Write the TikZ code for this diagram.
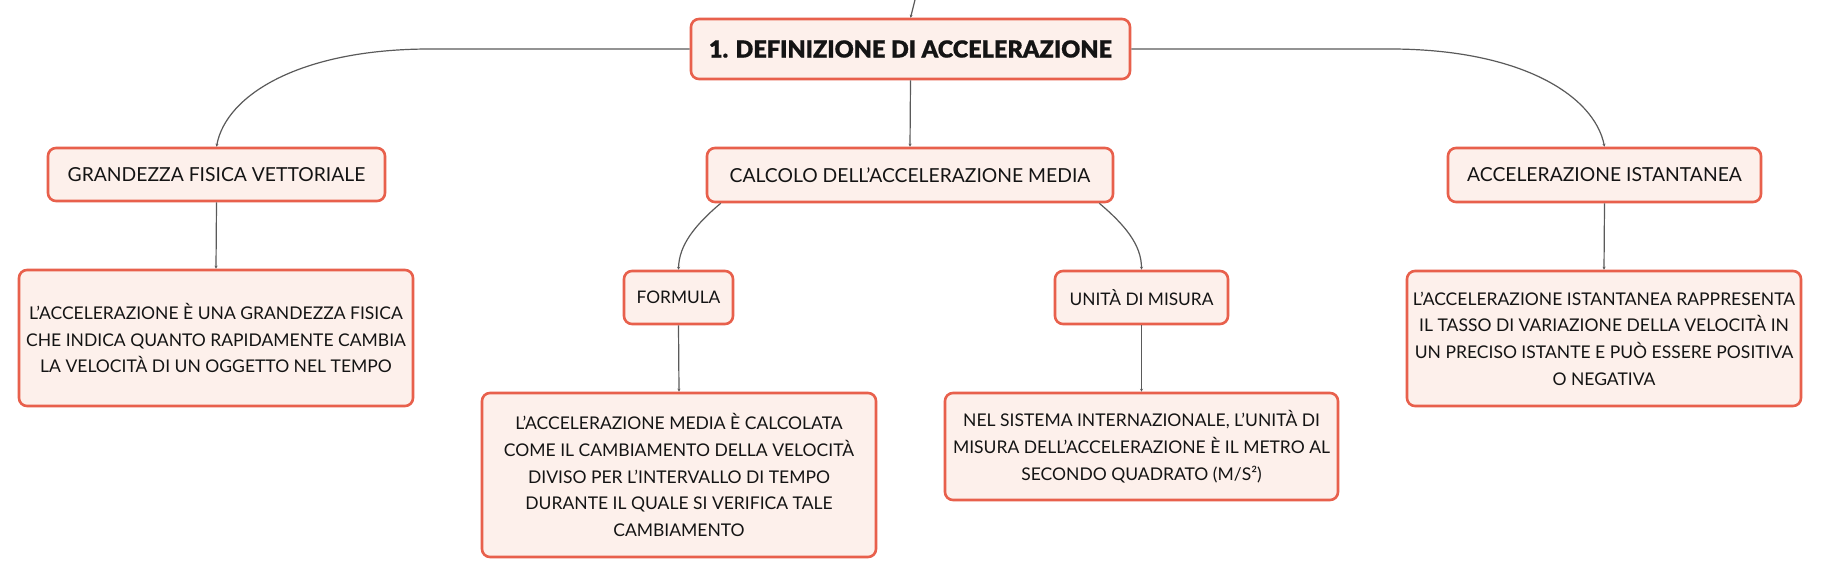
\documentclass[tikz,border=0pt]{standalone}
\usepackage{fontspec}
\setmainfont{Lato}
\newfontfamily\heavyfont{Lato Black}[FakeBold=0.6]
\usetikzlibrary{arrows.meta}
\definecolor{boxfill}{HTML}{FDF0EB}
\definecolor{boxline}{HTML}{E8604C}
\definecolor{linkcol}{HTML}{5A5A5A}
\definecolor{txt}{HTML}{141414}
\tikzset{
  mbox/.style={draw=boxline, fill=boxfill, line width=2.6pt, rounded corners=8pt,
    inner sep=0pt, align=center, text=txt, font=\fontsize{17.5}{26.7}\selectfont},
  topicbox/.style={mbox, font=\fontsize{19.3}{24}\selectfont},
  subbox/.style={mbox, font=\fontsize{17.3}{24}\selectfont},
  rootbox/.style={mbox, font=\heavyfont\fontsize{23.5}{30}\selectfont},
  link/.style={draw=linkcol, line width=1.2pt, -{Stealth[length=3pt,width=3pt]}},
}
\begin{document}
\begin{tikzpicture}[x=1pt,y=-1pt]
\useasboundingbox[fill=white] (0,0) rectangle (1821,577);
\node[rootbox, minimum width=439, minimum height=60] (root) at (910.5,49) {1. DEFINIZIONE DI ACCELERAZIONE};
\node[topicbox, minimum width=406, minimum height=54] (calc) at (910,175) {CALCOLO DELL’ACCELERAZIONE MEDIA};
\node[topicbox, minimum width=337, minimum height=53] (gran) at (216.5,174.5) {GRANDEZZA FISICA VETTORIALE};
\node[topicbox, minimum width=313, minimum height=54] (acc) at (1604.5,175) {ACCELERAZIONE ISTANTANEA};
\node[subbox, minimum width=109, minimum height=53] (form) at (678.5,297.5) {FORMULA};
\node[subbox, minimum width=173, minimum height=53] (unit) at (1141.5,297.5) {UNITÀ DI MISURA};
\node[mbox, minimum width=394, minimum height=136] (granD) at (216,338) {L’ACCELERAZIONE È UNA GRANDEZZA FISICA\\CHE INDICA QUANTO RAPIDAMENTE CAMBIA\\LA VELOCITÀ DI UN OGGETTO NEL TEMPO};
\node[mbox, minimum width=394, minimum height=164] (formD) at (679,475) {L’ACCELERAZIONE MEDIA È CALCOLATA\\COME IL CAMBIAMENTO DELLA VELOCITÀ\\DIVISO PER L’INTERVALLO DI TEMPO\\DURANTE IL QUALE SI VERIFICA TALE\\CAMBIAMENTO};
\node[mbox, minimum width=393, minimum height=107] (unitD) at (1141.5,446.5) {NEL SISTEMA INTERNAZIONALE, L’UNITÀ DI\\MISURA DELL’ACCELERAZIONE È IL METRO AL\\SECONDO QUADRATO (M/S²)};
\node[mbox, minimum width=394, minimum height=135] (accD) at (1604,338.5) {L’ACCELERAZIONE ISTANTANEA RAPPRESENTA\\IL TASSO DI VARIAZIONE DELLA VELOCITÀ IN\\UN PRECISO ISTANTE E PUÒ ESSERE POSITIVA\\O NEGATIVA};
\coordinate (parent) at (916,-4);
% connectors
\draw[link] (parent) -- (root.north);
\draw[link] (root.west) -- (430,49) .. controls (300,49) and (226,95) .. (gran.north);
\draw[link] (root.east) -- (1390,49) .. controls (1520,49) and (1594,95) .. (acc.north);
\draw[link] (root.south) -- (calc.north);
\draw[link] (calc.south west) ++(15,0) .. controls (695,225) and (679,245) .. (form.north);
\draw[link] (calc.south east) ++(-15,0) .. controls (1125,225) and (1141.5,245) .. (unit.north);
\draw[link] (gran.south) -- (granD.north);
\draw[link] (form.south) -- (formD.north);
\draw[link] (unit.south) -- (unitD.north);
\draw[link] (acc.south) -- (accD.north);
\end{tikzpicture}
\end{document}
